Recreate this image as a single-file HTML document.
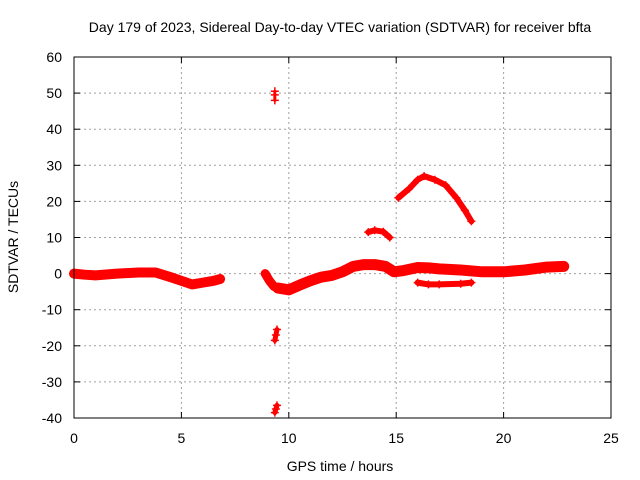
<!DOCTYPE html>
<html><head><meta charset="utf-8"><style>
body{margin:0;background:#fff}
svg{display:block;font-family:"Liberation Sans",sans-serif}
</style></head><body>
<svg id="chart" width="640" height="480">
<text x="340" y="32" font-size="14" text-anchor="middle">Day 179 of 2023, Sidereal Day-to-day VTEC variation (SDTVAR) for receiver bfta</text>
<text x="340" y="471" font-size="14" text-anchor="middle">GPS time / hours</text>
<text transform="translate(18,237) rotate(-90)" font-size="14" text-anchor="middle">SDTVAR / TECUs</text>
<g id="grid"></g>
<g id="ticks"></g>
<g id="series"></g>
<rect x="74" y="57" width="537" height="361" fill="none" stroke="#000" stroke-width="1"/>
</svg>
<script>
const xTicks=[0,5,10,15,20,25];
const yTicks=[-40,-30,-20,-10,0,10,20,30,40,50,60];
const segMain1=[[0,0],[0.5,-0.3],[1,-0.5],[2,0],[3,0.3],[3.8,0.3],[4.5,-1],[5,-2],[5.5,-3],[6,-2.5],[6.5,-2],[6.8,-1.5]];
const segGap=[[8.9,0],[9.1,-2],[9.3,-3.5],[9.45,-4]];
const segMain2=[[9.5,-4],[10,-4.5],[10.5,-3.2],[11,-2],[11.5,-1],[12,-0.5],[12.5,0.5],[13,2],[13.5,2.5],[14,2.5],[14.5,2],[14.9,0.5],[15.3,0.8],[16,1.7],[16.5,1.6],[17,1.3],[18,1],[19,0.5],[20,0.5],[21,1],[22,1.8],[22.8,2]];
const segUpperSmall=[[13.7,11.5],[14,12],[14.4,11.6],[14.7,10]];
const segArc=[[15.1,21],[15.6,23.5],[16,26],[16.3,27],[16.8,26],[17.3,24.5],[17.8,21],[18.2,17.5],[18.5,14.5]];
const segLower=[[16,-2.5],[16.5,-3],[17,-3],[18,-2.8],[18.5,-2.5]];
const spikeTop=[[9.35,50.5],[9.35,49.5],[9.35,48]];
const spikeMid=[[9.35,-18.5],[9.4,-17],[9.45,-15.5]];
const spikeLow=[[9.35,-38.5],[9.4,-37.5],[9.45,-36.5]];
const segments=[segMain1,segGap,segMain2,segUpperSmall,segArc,segLower,spikeTop,spikeMid,spikeLow];
const widths=[10,9,11,6,6,6,3,5,5];
const X=v=>74+v*(537/25);
const Y=v=>418-(v+40)*(361/100);
const NS="http://www.w3.org/2000/svg";
const grid=document.getElementById('grid'),ticks=document.getElementById('ticks'),ser=document.getElementById('series');
function mk(tag,attrs,parent){const e=document.createElementNS(NS,tag);for(const k in attrs)e.setAttribute(k,attrs[k]);parent.appendChild(e);return e;}
xTicks.forEach(t=>{const x=X(t);
 if(t>0&&t<25){const g=mk('line',{x1:x,x2:x,y1:57,y2:418,stroke:'#a0a0a0','stroke-dasharray':'2,3'},grid);
 
 }
 mk('line',{x1:x,x2:x,y1:418,y2:412,stroke:'#000'},ticks);mk('line',{x1:x,x2:x,y1:57,y2:63,stroke:'#000'},ticks);
 const l=mk('text',{x:x,y:443,'font-size':14,'text-anchor':'middle'},ticks);l.textContent=t;
 
 });
yTicks.forEach(t=>{const y=Y(t);
 if(t>-40&&t<60){const g=mk('line',{x1:74,x2:611,y1:y,y2:y,stroke:'#a0a0a0','stroke-dasharray':'2,3'},grid);
 
 }
 mk('line',{x1:74,x2:80,y1:y,y2:y,stroke:'#000'},ticks);mk('line',{x1:611,x2:605,y1:y,y2:y,stroke:'#000'},ticks);
 const l=mk('text',{x:62,y:y+5,'font-size':14,'text-anchor':'end'},ticks);l.textContent=t;
 
 });
segments.forEach((s,i)=>{
 const p=mk('polyline',{points:s.map(d=>X(d[0])+','+Y(d[1])).join(' '),fill:'none',stroke:'#f00','stroke-width':widths[i],'stroke-linejoin':'round','stroke-linecap':'round'},ser);
 
 
 s.forEach(d=>{const x=X(d[0]),y=Y(d[1]);
  const m=mk('path',{d:`M${x-4},${y}h8M${x},${y-4}v8`,stroke:'#f00','stroke-width':1.5},ser);
  
  });
});
</script>
</body></html>
